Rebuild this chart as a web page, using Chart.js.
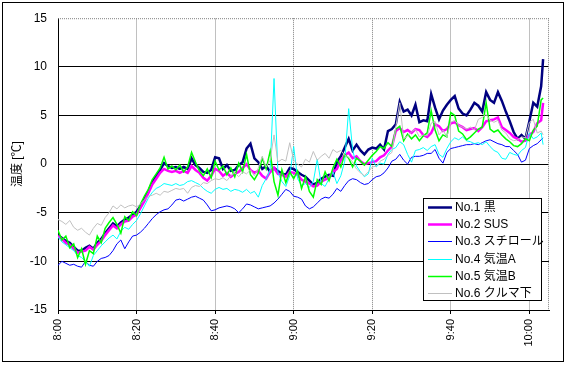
<!DOCTYPE html>
<html lang="ja">
<head>
<meta charset="UTF-8">
<title>温度</title>
<script src="https://cdn.jsdelivr.net/npm/chart.js"></script>
<style>
  body { margin: 0; background: #fff; }
  #wrap { width: 569px; height: 366px; }
</style>
</head>
<body>
<div id="wrap"><canvas id="chart" width="569" height="366"></canvas></div>
<script>
// x = minutes after 8:00
const minutes = [];
for (let m = 0; m <= 123; m++) minutes.push(m);
minutes.push(123.5);

const xTicks = [0, 20, 40, 60, 80, 100, 120];
const yTicks = [-15, -10, -5, 0, 5, 10, 15];

const seriesNames = ['No.1 黒', 'No.2 SUS', 'No.3 スチロール', 'No.4 気温A', 'No.5 気温B', 'No.6 クルマ下'];

const kuro = [
  -7.3,-7.6,-7.9,-8.1,-8.5,-8.9,-8.9,-8.6,-8.4,-8.7,
  -8.1,-7.7,-7.1,-6.6,-6.1,-6.4,-6.0,-5.7,-5.5,-5.2,
  -4.9,-4.3,-3.6,-2.8,-1.9,-1.2,-0.6,0.1,-0.2,-0.4,
  -0.3,-0.5,-0.3,-0.5,0.6,-0.1,-0.4,-0.8,-0.9,-0.6,
  0.7,0.6,-0.5,-0.1,-0.7,-0.6,-0.1,0.2,1.6,2.1,
  0.6,0.2,-0.5,-0.2,-0.8,-0.4,-0.7,-1.0,-1.1,-0.4,
  -0.5,-0.8,-1.1,-1.3,-1.7,-2.1,-1.9,-1.5,-1.3,-1.1,
  -1.2,0.2,0.8,1.7,2.6,1.4,2.0,1.4,1.0,1.5,
  1.7,1.6,2.0,1.5,3.4,3.6,4.1,6.4,5.4,5.6,
  5.0,6.1,4.3,4.5,4.4,7.2,5.8,4.6,5.5,6.1,
  6.6,7.0,5.7,5.2,5.0,5.6,6.3,6.0,5.4,7.4,
  6.6,6.3,7.4,6.5,5.4,4.4,3.3,2.6,3.0,2.6,
  4.4,6.3,5.9,8.0,10.8
];
const sus = [
  -7.4,-7.7,-8.1,-8.3,-8.7,-9.1,-9.0,-8.9,-8.5,-8.8,
  -8.3,-7.9,-7.3,-6.8,-6.3,-6.6,-6.2,-5.9,-5.8,-5.4,
  -5.2,-4.5,-3.8,-3.0,-2.1,-1.5,-0.9,-0.5,-0.7,-0.8,
  -0.7,-0.9,-0.7,-0.9,-0.2,-0.6,-0.9,-1.4,-1.7,-1.2,
  -0.5,-0.7,-1.2,-0.9,-1.3,-1.0,-0.8,-0.4,0.0,-0.6,
  -0.9,-0.7,-1.2,-1.5,-0.8,-0.4,-1.0,-1.1,-1.3,-0.8,
  -0.9,-1.1,-1.6,-1.8,-2.0,-2.3,-2.2,-1.8,-1.6,-1.4,
  -0.8,-0.5,0.4,0.9,1.2,0.6,0.8,0.3,0.0,0.1,
  0.2,0.3,0.7,0.9,1.4,1.8,3.4,3.7,3.3,3.5,
  3.2,3.6,3.5,3.0,2.8,3.2,4.1,3.9,3.4,3.6,
  4.2,4.3,4.0,3.8,3.5,3.6,3.7,3.4,3.8,4.4,
  4.5,4.6,4.8,3.8,3.5,3.2,2.8,2.6,2.3,2.4,
  3.0,3.3,4.2,4.5,6.3
];
const styro = [
  -10.4,-10.0,-10.2,-10.4,-10.3,-10.5,-10.6,-10.0,-10.4,-10.5,
  -10.0,-9.7,-9.6,-9.4,-8.9,-8.2,-7.8,-8.7,-8.0,-7.4,
  -7.3,-7.0,-6.6,-6.1,-5.6,-5.2,-4.9,-4.7,-4.6,-4.2,
  -3.7,-3.6,-3.8,-3.6,-3.4,-3.3,-3.5,-3.7,-4.2,-4.8,
  -4.7,-4.5,-4.4,-4.3,-4.4,-4.6,-5.0,-4.6,-4.1,-4.2,
  -4.4,-4.6,-4.5,-4.4,-4.3,-4.0,-3.6,-3.1,-2.6,-2.8,
  -3.3,-3.4,-3.6,-4.3,-4.6,-4.4,-4.0,-3.6,-3.4,-3.5,
  -3.1,-2.5,-2.8,-2.2,-1.7,-1.5,-1.6,-1.9,-2.1,-2.0,
  -1.6,-1.3,-1.2,-0.9,-0.4,0.3,0.5,1.0,0.4,0.0,
  0.7,0.8,0.8,0.9,1.1,1.1,1.5,0.6,0.1,1.2,
  1.6,1.7,1.8,1.9,2.0,2.0,2.1,2.0,2.2,2.4,
  2.5,2.3,2.1,2.0,1.8,1.8,1.4,1.0,0.2,0.4,
  1.6,1.9,2.1,2.5,2.7
];
const kionA = [
  -7.5,-8.0,-8.3,-8.6,-8.9,-9.4,-9.6,-10.0,-10.5,-9.4,
  -8.9,-8.4,-8.0,-7.6,-7.3,-7.7,-6.9,-6.5,-6.7,-6.2,
  -5.8,-5.1,-4.3,-3.5,-2.9,-2.5,-2.3,-2.0,-2.1,-2.2,
  -2.0,-2.2,-2.1,-1.8,-1.7,-1.9,-2.1,-2.5,-2.8,-3.0,
  -2.6,-2.4,-2.6,-2.5,-2.8,-2.6,-2.7,-2.9,-2.6,-3.0,
  -2.8,-3.4,-2.2,-1.5,-0.6,8.8,-0.9,-1.8,-2.3,-1.2,
  1.8,-1.5,-2.2,-2.0,-2.4,-1.8,0.5,-2.0,-2.3,-1.5,
  -0.8,-2.0,-1.2,0.3,5.7,1.5,-0.2,-0.8,-1.3,-1.0,
  0.6,-0.3,0.1,0.0,1.0,1.5,1.7,2.3,2.0,1.0,
  0.2,1.4,1.5,1.7,1.4,1.8,2.0,1.0,0.7,1.6,
  2.3,2.7,2.5,2.8,2.4,2.3,2.1,2.2,2.0,2.3,
  1.8,1.4,1.2,0.6,0.5,1.2,1.0,0.9,1.4,1.7,
  3.2,2.6,2.8,3.2,2.0
];
const kionB = [
  -6.8,-7.8,-7.4,-8.6,-8.2,-9.6,-8.7,-10.3,-8.9,-9.2,
  -7.4,-8.1,-6.6,-6.0,-5.5,-6.2,-7.1,-5.4,-5.8,-4.9,
  -5.3,-4.1,-3.3,-2.6,-1.6,-1.0,-0.4,0.7,-0.5,-0.2,
  -0.6,-0.1,-0.8,-0.3,1.2,0.2,-0.7,-1.2,-0.5,-1.4,
  0.3,-0.6,-0.2,-1.1,-0.4,-1.3,0.1,-0.8,1.0,-1.1,
  -1.6,-0.9,0.6,-0.5,1.3,-1.8,-3.2,-0.6,-1.9,-0.8,
  -1.5,-0.7,-2.5,-1.3,-2.8,-3.4,-1.6,-2.1,-0.8,-1.7,
  -0.4,0.5,-0.3,1.0,0.6,-0.3,0.6,0.3,-0.1,0.4,
  0.9,1.3,1.8,1.6,2.2,1.8,3.6,3.9,2.4,3.1,
  2.6,3.0,2.4,2.9,3.2,5.5,3.5,2.4,3.0,2.8,
  5.3,5.0,3.4,3.1,2.5,2.8,3.2,3.6,3.8,6.3,
  3.6,3.3,3.5,3.0,2.6,2.3,1.9,1.8,2.1,2.6,
  2.4,3.5,3.9,6.6,6.8
];
const kuruma = [
  -5.7,-5.9,-6.2,-5.8,-6.5,-6.8,-6.6,-7.0,-7.3,-6.6,
  -6.1,-6.3,-5.5,-5.0,-4.3,-4.6,-4.2,-4.5,-4.3,-4.2,
  -4.4,-4.1,-3.7,-3.3,-3.2,-3.0,-3.2,-2.8,-2.9,-2.7,
  -2.5,-2.6,-2.5,-3.0,-2.4,-2.2,-2.3,-1.9,-2.0,-1.7,
  -1.5,-1.6,-1.4,-1.7,-1.2,-0.9,-1.3,-0.8,-1.0,-0.6,
  -1.2,-0.4,0.8,-0.3,0.4,3.0,0.2,0.5,0.3,2.2,
  0.4,0.0,-0.3,0.5,0.2,1.3,0.4,0.8,1.1,0.6,
  1.5,1.2,1.4,0.9,0.7,0.2,-0.5,-0.9,-1.2,-0.8,
  -0.3,-0.2,0.3,0.5,0.9,1.2,3.8,6.3,2.6,2.9,
  3.3,3.6,2.8,3.0,2.9,4.2,4.4,3.0,3.5,2.8,
  4.3,4.5,4.0,3.8,3.6,3.8,3.5,4.6,4.8,5.1,
  4.5,4.3,4.5,3.5,3.2,2.6,2.4,2.5,2.8,2.7,
  4.3,4.6,3.2,3.4,3.0
];

const allSeries = [kuro, sus, styro, kionA, kionB, kuruma];
const colors = ['#000080', '#FF00FF', '#0000FF', '#00FFFF', '#00FF00', '#C0C0C0'];
const widths = [2.5, 2.5, 1, 1, 1.5, 1];

function timeLabel(m) {
    const h = 8 + Math.floor(m / 60);
    const mm = m % 60;
    return h + ':' + String(mm).padStart(2, '0');
}

const FONT = "'Liberation Sans', 'Noto Sans CJK JP', sans-serif";
Chart.defaults.font.family = FONT;
Chart.defaults.color = '#000';

// 外枠、プロットエリアの点線、凡例
const framePlugin = {
    id: 'frame',
    beforeDraw(chart) {
        const c = chart.ctx;
        c.save();
        c.fillStyle = '#fff';
        c.fillRect(0, 0, chart.width, chart.height);
        c.restore();
    },
    beforeDatasetsDraw(chart) {
        const c = chart.ctx, a = chart.chartArea;
        c.save();
        c.strokeStyle = '#808080';
        c.lineWidth = 1;
        c.setLineDash([1, 1]);
        c.beginPath();
        c.moveTo(a.left, a.top + 0.5);
        c.lineTo(a.right, a.top + 0.5);
        c.moveTo(a.right - 0.5, a.top);
        c.lineTo(a.right - 0.5, a.bottom);
        c.stroke();
        c.restore();
    },
    afterDraw(chart) {
        const c = chart.ctx;
        c.save();
        c.strokeStyle = '#000';
        c.lineWidth = 1;
        c.strokeRect(2.5, 2.5, 561, 359);

        // legend box
        const bx = 423, by = 198, bw = 118, bh = 102;
        c.fillStyle = '#fff';
        c.fillRect(bx, by, bw, bh);
        c.strokeRect(bx + 0.5, by + 0.5, bw, bh);
        c.font = '12px ' + FONT;
        c.textBaseline = 'middle';
        c.textAlign = 'left';
        chart.data.datasets.forEach((ds, i) => {
            const yy = Math.round(207 + i * 17.2) + 0.5;
            c.strokeStyle = ds.borderColor;
            c.lineWidth = ds.borderWidth;
            c.beginPath();
            c.moveTo(428, yy);
            c.lineTo(452, yy);
            c.stroke();
            c.fillStyle = '#000';
            c.fillText(ds.label, 455, yy);
        });
        c.restore();
    }
};

const datasets = allSeries.map((s, i) => ({
    label: seriesNames[i],
    data: minutes.map((m, j) => ({ x: m, y: s[j] })),
    borderColor: colors[i],
    borderWidth: widths[i],
    pointRadius: 0,
    tension: 0,
    fill: false,
    order: allSeries.length - i
}));

new Chart(document.getElementById('chart'), {
    type: 'line',
    data: { datasets },
    options: {
        responsive: false,
        animation: false,
        devicePixelRatio: 1,
        layout: { padding: { top: 16, right: 20, bottom: 0, left: 0 } },
        plugins: {
            legend: { display: false },
            tooltip: { enabled: false }
        },
        scales: {
            x: {
                type: 'linear',
                min: 0,
                max: 125,
                afterFit(scale) { scale.height = 56; },
                afterBuildTicks(scale) { scale.ticks = xTicks.map(v => ({ value: v })); },
                ticks: {
                    minRotation: 90,
                    maxRotation: 90,
                    padding: 5,
                    font: { size: 11 },
                    callback: v => timeLabel(v)
                },
                grid: {
                    color: ctx => (ctx.tick && (ctx.tick.value === 60 || ctx.tick.value === 80)) ? '#808080' : '#C0C0C0',
                    tickColor: '#000',
                    tickLength: 4
                },
                border: {
                    color: '#000',
                    dash: ctx => (ctx.tick && (ctx.tick.value === 60 || ctx.tick.value === 80)) ? [1, 1] : []
                }
            },
            y: {
                min: -15,
                max: 15,
                afterFit(scale) { scale.width = 58; },
                afterBuildTicks(scale) { scale.ticks = yTicks.map(v => ({ value: v })); },
                ticks: {
                    padding: 11,
                    font: { size: 12 }
                },
                grid: {
                    drawTicks: false,
                    color: ctx => (ctx.tick && ctx.tick.value === 15) ? 'rgba(0,0,0,0)' : '#000'
                },
                border: { color: '#000' },
                title: {
                    display: true,
                    text: '温度 [℃]',
                    font: { size: 12 },
                    padding: { top: 10 }
                }
            }
        }
    },
    plugins: [framePlugin]
});
</script>
</body>
</html>
